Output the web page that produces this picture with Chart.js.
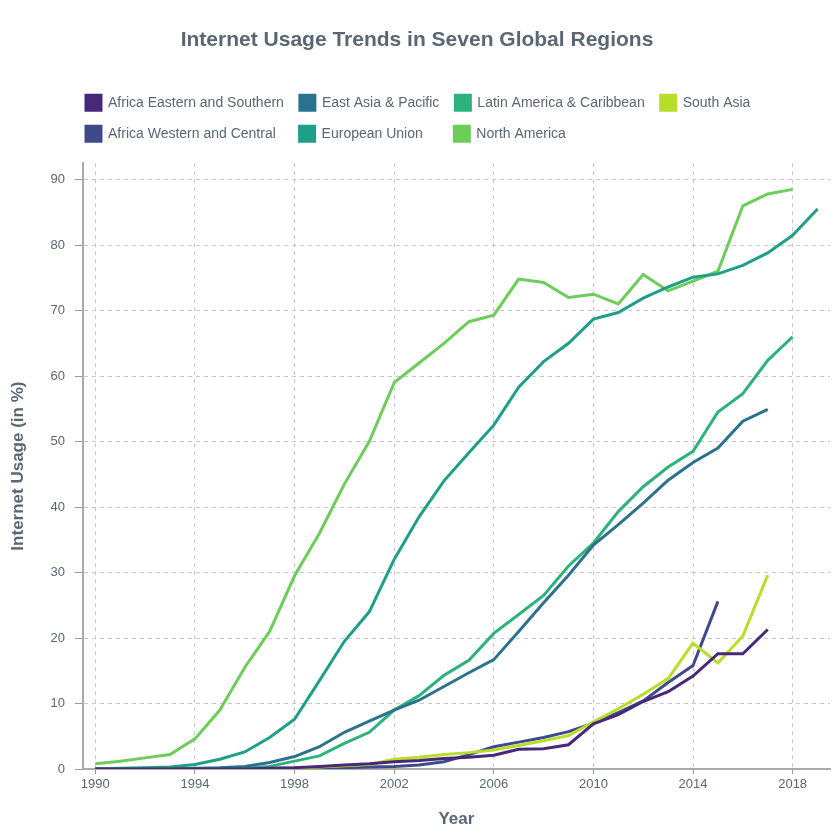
<!DOCTYPE html>
<html><head><meta charset="utf-8">
<script src="https://cdn.jsdelivr.net/npm/chart.js@4"></script>
<style>html,body{margin:0;padding:0;background:#fff}#w{width:840px;height:840px}</style>
</head><body><div id="w"><canvas id="c"></canvas></div>
<script>
const years = [];
for (let y = 1990; y <= 2019; y++) years.push(y);
const xTicks = [1990, 1994, 1998, 2002, 2006, 2010, 2014, 2018];
const yTicks = [0,10,20,30,40,50,60,70,80,90];
const africaES = [0,0,0,0,0,0,0,0.1,0.2,0.4,0.6,0.8,1.1,1.3,1.6,1.8,2.1,3.0,3.1,3.7,6.9,8.3,10.3,11.8,14.2,17.6,17.6,21.3];
const eastAsia = [0,0,0,0,0.1,0.2,0.4,1.0,1.9,3.4,5.6,7.3,9.0,10.5,12.6,14.7,16.7,21.0,25.4,29.6,34.2,37.3,40.6,44.1,46.8,49.0,53.1,54.9];
const latinAm = [0,0,0,0,0,0.1,0.2,0.4,1.2,2.0,3.9,5.6,9.0,11.2,14.3,16.6,20.7,23.6,26.5,31.0,34.5,39.3,43.1,46.1,48.5,54.5,57.3,62.4,66.0];
const southAsia = [0,0,0,0,0,0,0,0,0.1,0.3,0.5,0.7,1.5,1.8,2.2,2.5,2.9,3.6,4.3,5.1,7.2,9.2,11.4,13.8,19.2,16.2,20.3,29.6];
const africaWC = [0,0,0,0,0,0,0,0.1,0.1,0.2,0.2,0.3,0.4,0.6,1.1,2.2,3.4,4.1,4.8,5.7,7.0,8.6,10.4,13.2,15.8,25.6];
const eu = [0,0.1,0.2,0.3,0.7,1.5,2.6,4.8,7.6,13.5,19.5,24.0,32.0,38.5,44.0,48.3,52.5,58.3,62.2,65.0,68.7,69.7,71.9,73.6,75.1,75.6,76.9,78.8,81.5,85.5];
const northAm = [0.8,1.2,1.7,2.2,4.6,9.0,15.5,21.0,29.5,36.0,43.5,50.0,59.0,62.0,65.0,68.3,69.3,74.8,74.3,72.0,72.5,71.0,75.5,73.0,74.5,76.0,86.0,87.8,88.5];
const names = ["Africa Eastern and Southern","East Asia & Pacific","Latin America & Caribbean","South Asia","Africa Western and Central","European Union","North America"];
const series = [africaES, eastAsia, latinAm, southAsia, africaWC, eu, northAm];
const colors = ["#482878","#2c728e","#2db27d","#b8de29","#3e4a89","#1f9e89","#6ccd5a"];
const font = "'Liberation Sans', Arial, sans-serif";
const txt = "#5a6673";
// pad labels so legend columns line up like the reference grid
const padTo = (s, ref) => {
  const ctx = document.createElement('canvas').getContext('2d');
  ctx.font = "14px " + font;
  let out = s;
  while (ctx.measureText(out + ' ').width <= ctx.measureText(ref).width + 1) out += ' ';
  return out;
};
const shown = names.map((n, i) => i >= 4 ? padTo(n, names[i - 4]) : n);
const legendShift = {
  id: 'legendShift',
  beforeInit(chart) {
    const origFit = chart.legend.fit;
    chart.legend.fit = function () { origFit.call(this); this.height += 12; };
  },
  afterLayout(chart) { chart.legend.left += 66; }
};
new Chart(document.getElementById('c'), {
  type: 'line',
  data: { datasets: series.map((s, i) => ({
    label: shown[i], data: s.map((v, j) => ({x: years[j], y: v})),
    borderColor: colors[i], backgroundColor: colors[i], borderWidth: 3, pointRadius: 0, tension: 0
  }))},
  plugins: [legendShift],
  options: {
    responsive: true, maintainAspectRatio: false, animation: false,
    layout: { padding: { left: 4, right: 10, top: 28, bottom: 6 } },
    plugins: {
      title: { display: true, text: 'Internet Usage Trends in Seven Global Regions', color: txt,
        font: { family: font, size: 21, weight: 'bold' }, padding: { bottom: 26 } },
      legend: { align: 'start', labels: { color: txt, boxWidth: 15, boxHeight: 15, padding: 16,
        font: { family: font, size: 14 } } },
      tooltip: { enabled: false }
    },
    scales: {
      x: { type: 'linear', min: 1989.5, max: 2019.5,
        afterBuildTicks: ax => { ax.ticks = xTicks.map(v => ({ value: v })); },
        ticks: { color: txt, font: { family: font, size: 13 }, callback: v => String(v) },
        grid: { color: '#c8c8c8', tickColor: '#999', tickLength: 5 },
        border: { color: '#aaa', width: 2, dash: [4,4] },
        title: { display: true, text: 'Year', color: txt, font: { family: font, size: 17, weight: 'bold' }, padding: { top: 14 } } },
      y: { min: 0, max: 92.5,
        afterBuildTicks: ax => { ax.ticks = yTicks.map(v => ({ value: v })); },
        ticks: { color: txt, font: { family: font, size: 13 }, padding: 10 },
        grid: { color: '#c8c8c8', tickColor: '#999', tickLength: 8 },
        border: { color: '#aaa', width: 2, dash: [4,4] },
        title: { display: true, text: 'Internet Usage (in %)', color: txt, font: { family: font, size: 17, weight: 'bold' }, padding: { bottom: 12 } } }
    }
  }
});
</script></body></html>
